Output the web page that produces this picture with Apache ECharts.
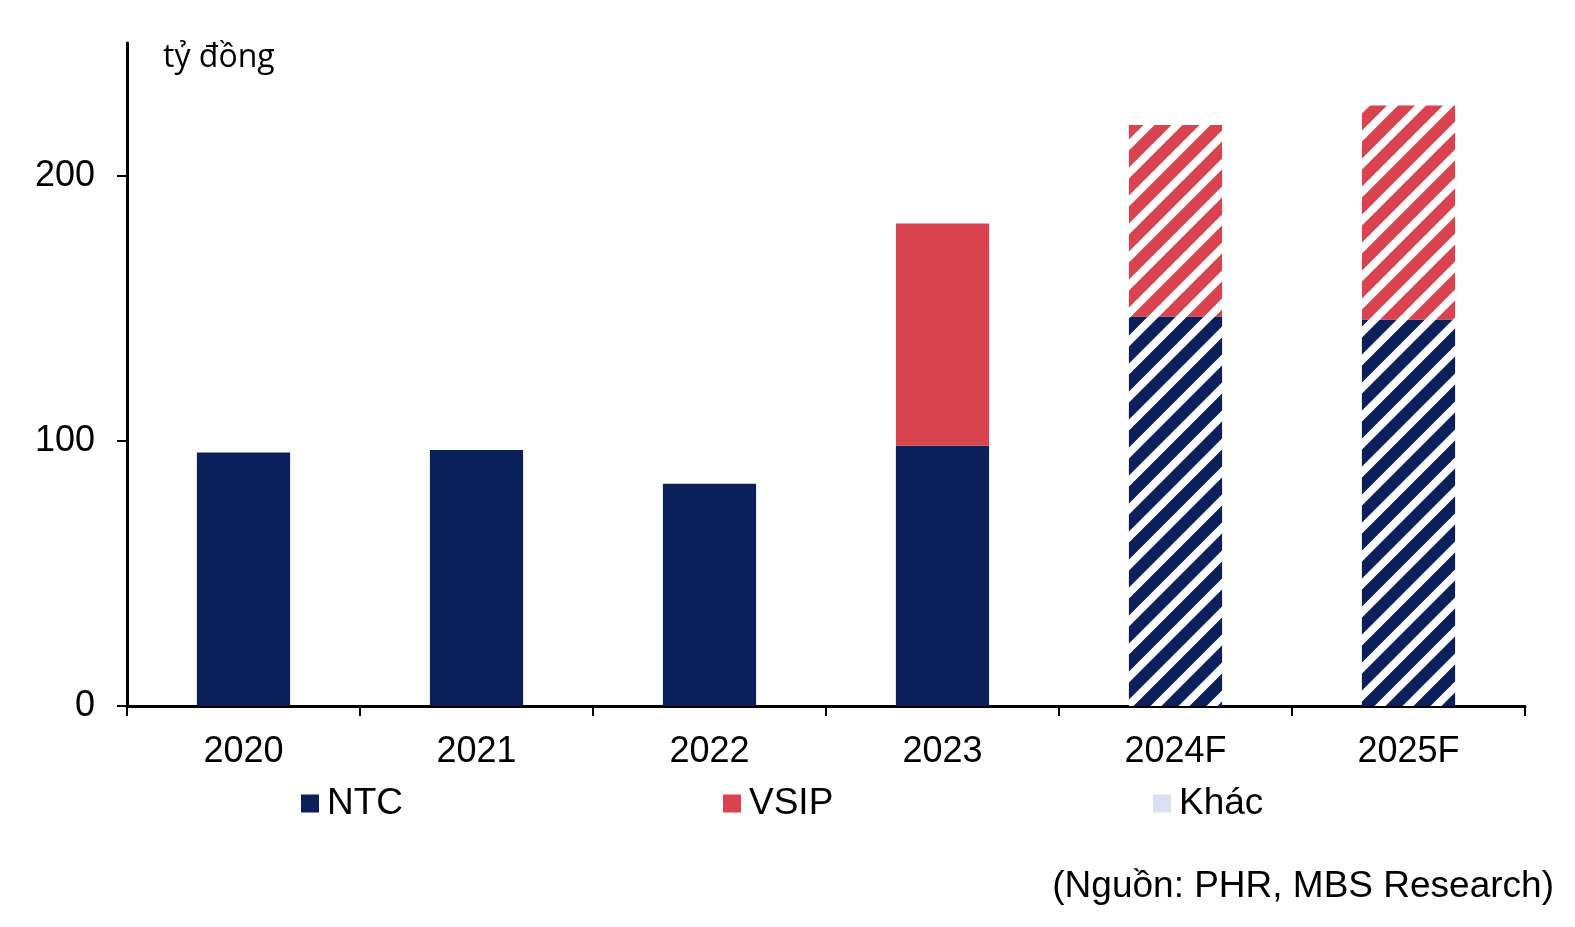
<!DOCTYPE html>
<html>
<head>
<meta charset="utf-8">
<script src="https://cdn.jsdelivr.net/npm/echarts@6/dist/echarts.min.js"></script>
<style>
html,body{margin:0;padding:0;background:#fff;}
#chart{width:1575px;height:927px;}
</style>
</head>
<body>
<div id="chart"></div>
<script>
const categories = ['2020', '2021', '2022', '2023', '2024F', '2025F'];
const isForecast = [false, false, false, false, true, true];
const ntc = [95.6, 96.5, 83.8, 98.1, 146.9, 145.7];
const vsip = [0, 0, 0, 83.8, 72.2, 80.7];
const khac = [0, 0, 0, 0, 0, 0];
const yTicks = [0, 100, 200];

const NAVY = '#0b1f5a';
const RED = '#d9434f';
const LIGHT = '#d9e1f2';

function stripes(color) {
  const s = 28;
  const c = document.createElement('canvas');
  c.width = s; c.height = s;
  const g = c.getContext('2d');
  g.fillStyle = '#fff';
  g.fillRect(0, 0, s, s);
  g.strokeStyle = color;
  g.lineWidth = 12;
  g.lineCap = 'square';
  [[-s, s, s, -s], [0, s, s, 0], [0, 2 * s, 2 * s, 0]].forEach(function (p) {
    g.beginPath();
    g.moveTo(p[0], p[1]);
    g.lineTo(p[2], p[3]);
    g.stroke();
  });
  return { image: c, repeat: 'repeat' };
}

function buildData(vals, color) {
  const pat = stripes(color);
  return vals.map(function (v, i) {
    return isForecast[i] ? { value: v, itemStyle: { color: pat } } : v;
  });
}

const FONT = 'Liberation Sans, Arial, sans-serif';
const chart = echarts.init(document.getElementById('chart'));
const legendBase = {
  top: 785, padding: 0, itemWidth: 18, itemHeight: 18, icon: 'rect',
  textStyle: { fontFamily: FONT, fontSize: 37, color: '#000', padding: [0, 0, 0, 3] }
};
chart.setOption({
  animation: false,
  backgroundColor: '#fff',
  grid: { left: 127, right: 50, top: 43, bottom: 221, containLabel: false },
  title: [
    { text: 'tỷ đồng', left: 158, top: 37,
      textStyle: { fontFamily: 'Open Sans, Noto Sans, sans-serif', fontSize: 32, fontWeight: 'normal', color: '#000' } },
    { text: '(Nguồn: PHR, MBS Research)', right: 16, top: 863,
      textStyle: { fontFamily: FONT, fontSize: 37, fontWeight: 'normal', color: '#000' } }
  ],
  legend: [
    Object.assign({}, legendBase, { left: 301, data: ['NTC'] }),
    Object.assign({}, legendBase, { left: 723, data: ['VSIP'] }),
    Object.assign({}, legendBase, { left: 1153, data: ['Khác'] })
  ],
  xAxis: {
    type: 'category',
    data: categories,
    boundaryGap: true,
    axisLine: { lineStyle: { color: '#000', width: 3 } },
    axisTick: { show: true, length: 10, lineStyle: { color: '#000', width: 2 } },
    axisLabel: { fontFamily: FONT, fontSize: 36, color: '#000', margin: 28 },
    splitLine: { show: false }
  },
  yAxis: {
    type: 'value',
    min: 0, max: 250,
    axisLine: { show: true, lineStyle: { color: '#000', width: 3 } },
    axisTick: { show: true, length: 10, lineStyle: { color: '#000', width: 2 }, customValues: yTicks },
    axisLabel: { fontFamily: FONT, fontSize: 36, color: '#000', margin: 32, customValues: yTicks },
    splitLine: { show: false }
  },
  series: [
    { name: 'NTC', type: 'bar', stack: 'a', barCategoryGap: '60%',
      itemStyle: { color: NAVY }, data: buildData(ntc, NAVY) },
    { name: 'VSIP', type: 'bar', stack: 'a', barCategoryGap: '60%',
      itemStyle: { color: RED }, data: buildData(vsip, RED) },
    { name: 'Khác', type: 'bar', stack: 'a', barCategoryGap: '60%',
      itemStyle: { color: LIGHT }, data: khac }
  ]
});
</script>
</body>
</html>
